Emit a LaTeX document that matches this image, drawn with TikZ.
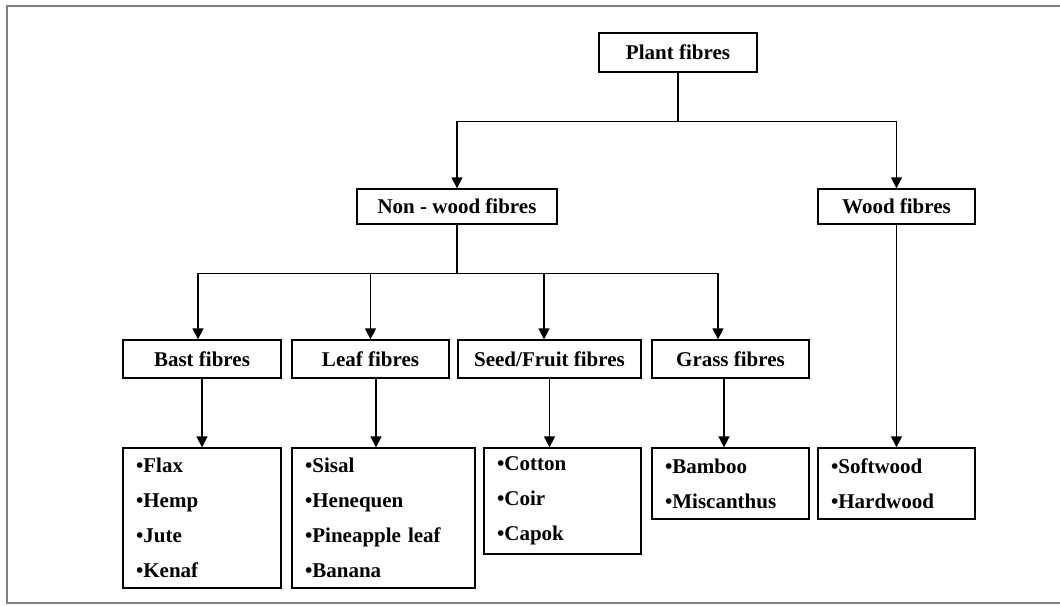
\documentclass[tikz,border=0pt]{standalone}
\usepackage{fontspec}
\setmainfont{Liberation Serif}
\usetikzlibrary{arrows.meta}
\begin{document}
\begin{tikzpicture}[x=1pt,y=-1pt,
  box/.style={draw=black,line width=1.3pt,inner sep=0pt,font=\fontsize{21}{24}\selectfont\bfseries},
  listbox/.style={draw=black,line width=1.3pt,inner xsep=13pt,inner ysep=0pt,align=left,
    font=\fontsize{21}{35}\selectfont\bfseries},
  link/.style={draw=black,line width=1.3pt},
  arr/.style={link,-{Triangle[width=11pt,length=11pt]}},
  frame/.style={draw=black!50,line width=2pt}]
\useasboundingbox (0,0) rectangle (1060,605);
\draw[frame] (1060,6) -- (7,6) -- (7,603) -- (1060,603);
% level 0 and 1
\node[box,minimum width=158pt,minimum height=39pt] (plant) at (678,52.5) {Plant fibres};
\node[box,minimum width=200pt,minimum height=35pt] (nonwood) at (457,206.5) {Non - wood fibres};
\node[box,minimum width=157pt,minimum height=35pt] (wood) at (896.5,206.5) {Wood fibres};
% level 2
\node[box,minimum width=158pt,minimum height=38pt] (bast) at (202,359) {Bast fibres};
\node[box,minimum width=157pt,minimum height=38pt] (leaf) at (370.5,359) {Leaf fibres};
\node[box,minimum width=183pt,minimum height=38pt] (seed) at (549.5,359) {Seed/Fruit fibres};
\node[box,minimum width=157pt,minimum height=38pt] (grass) at (730.5,359) {Grass fibres};
% lists
\node[listbox,text width=132pt,minimum height=140pt] (bastl) at (202,518) {•Flax\\•Hemp\\•Jute\\•Kenaf};
\node[listbox,text width=157pt,minimum height=140pt] (leafl) at (383.5,518) {•Sisal\\•Henequen\\•Pineapple leaf\\•Banana};
\node[listbox,text width=131pt,minimum height=106pt] (seedl) at (562.5,501) {•Cotton\\•Coir\\•Capok};
\node[listbox,text width=131pt,minimum height=71pt] (grassl) at (730.5,483.5) {•Bamboo\\•Miscanthus};
\node[listbox,text width=131pt,minimum height=71pt] (woodl) at (896.5,483.5) {•Softwood\\•Hardwood};
% connectors level 0 -> 1
\draw[link] (plant.south) -- ++(0,49) coordinate (j1);
\draw[arr] (j1) -| (nonwood.north);
\draw[arr] (j1) -| (wood.north);
% connectors level 1 -> 2
\draw[link] (nonwood.south) -- ++(0,49) coordinate (j2);
\draw[arr] (j2) -| ([xshift=-4pt]bast.north);
\draw[arr] (j2) -| (leaf.north);
\draw[arr] (j2) -| ([xshift=-5.5pt]seed.north);
\draw[arr] (j2) -| ([xshift=-12.5pt]grass.north);
% connectors to lists
\draw[arr] (bast.south) -- (bastl.north);
\draw[arr] ([xshift=5.5pt]leaf.south) -- ([xshift=5.5pt]leaf.south |- leafl.north);
\draw[arr] (seed.south) -- (seed.south |- seedl.north);
\draw[arr] ([xshift=-6.5pt]grass.south) -- ([xshift=-6.5pt]grass.south |- grassl.north);
\draw[arr] (wood.south) -- (woodl.north);
\end{tikzpicture}
\end{document}
